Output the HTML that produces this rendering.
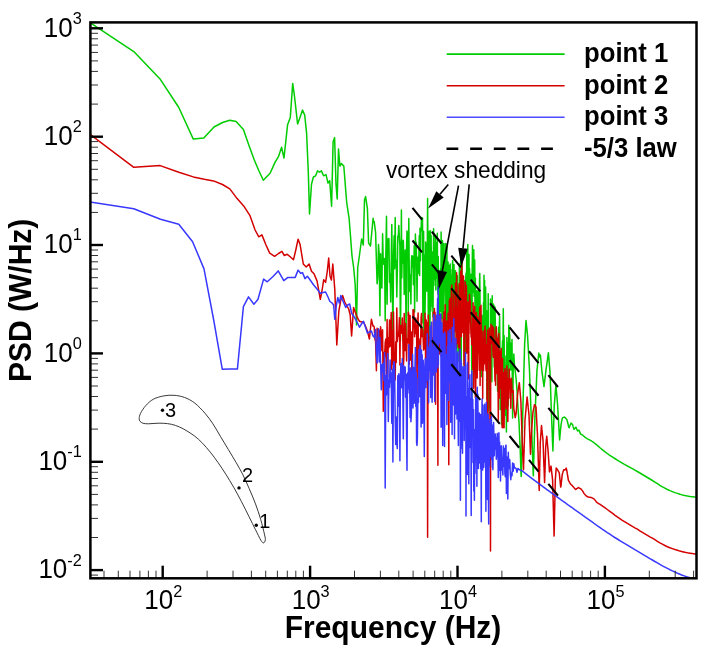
<!DOCTYPE html>
<html><head><meta charset="utf-8"><title>PSD</title><style>html,body{margin:0;padding:0;background:#fff}</style></head><body><svg width="707" height="658" viewBox="0 0 707 658" style="display:block;will-change:transform">
<rect width="707" height="658" fill="#fff"/>
<defs><clipPath id="cp"><rect x="90.4" y="22.4" width="606.1" height="555.9"/></clipPath></defs>
<g clip-path="url(#cp)" fill="none" stroke-linejoin="round" stroke-width="1.5">
<path d="M90.0 22.6L133.8 51.6L160.5 79.6L178.8 107.5L193.3 139.1L203.8 137.9L214.0 127.0L222.5 122.5L229.8 120.2L236.1 121.5L243.4 129.6L248.8 145.0L254.3 160.0L259.0 171.0L263.3 180.2L270.1 173.3L275.0 162.4L278.6 156.3L281.6 147.3L284.0 158.0L287.6 124.7L290.3 117.4L292.7 83.4L294.4 95.5L297.6 124.0L300.0 117.4L302.5 110.1L304.7 115.0L306.6 133.2L308.3 172.1L309.5 214.0L311.5 184.3L313.4 177.0L315.6 175.8L317.5 170.9L319.5 172.1L321.4 170.9L323.6 175.8L326.0 174.6L328.0 183.1L329.7 180.6L331.6 206.2L333.1 141.7L334.6 137.6L336.0 184.3L337.2 198.9L338.5 149.0L339.9 166.0L341.4 163.6L343.8 166.0L345.3 185.0L346.7 202.5L349.1 218.3L350.5 236.0L352.0 256.0L353.7 268.0L355.2 285.0L356.5 325.0L357.7 268.0L359.5 255.0L361.6 239.0L363.3 245.0L364.5 200.0L365.6 196.5L367.4 208.6L368.6 243.0L370.5 246.0L373.1 218.3L373.4 221.2L374.2 221.7L374.9 227.2L375.6 232.4L376.4 260.6L377.1 283.8L377.8 276.9L378.5 244.6L379.2 254.3L379.9 315.8L380.6 253.7L381.3 287.5L381.9 288.0L382.6 233.8L383.3 264.2L383.9 259.1L384.6 258.5L385.2 320.7L385.8 256.6L386.5 216.3L387.1 304.2L387.7 241.9L388.3 238.6L388.9 238.8L389.5 282.2L390.1 274.2L390.7 302.1L391.2 264.4L391.8 224.4L392.4 285.4L392.9 339.7L393.5 260.1L394.1 235.8L394.6 268.8L395.2 217.5L395.7 266.3L396.2 260.2L396.8 297.0L397.3 271.2L397.8 236.4L398.3 236.0L398.8 225.4L399.4 238.4L399.9 245.4L400.4 341.1L400.9 288.3L401.4 209.9L401.8 277.7L402.3 241.0L402.8 263.0L403.3 240.3L403.8 258.8L404.2 294.5L404.7 286.7L405.2 250.1L405.6 276.5L406.1 339.0L406.6 244.9L407.0 231.0L407.5 233.5L407.9 232.9L408.3 315.7L408.8 218.4L409.2 265.3L409.7 291.3L410.1 274.8L410.5 284.1L410.9 304.0L411.4 261.3L411.8 255.8L412.2 267.1L412.6 256.0L413.0 266.2L413.4 284.7L413.8 279.5L414.2 245.7L414.6 311.9L415.0 278.0L415.4 234.1L415.8 253.9L416.2 242.2L416.6 260.9L417.0 301.3L417.4 273.5L417.8 257.3L418.1 273.5L418.5 266.3L418.9 255.5L419.3 235.6L419.6 275.5L420.0 228.2L420.4 260.8L420.7 232.8L421.1 229.0L421.5 217.6L421.8 230.6L422.2 230.3L422.5 217.9L422.9 323.0L423.2 292.9L423.6 231.2L423.9 345.3L424.3 254.8L424.6 255.0L425.0 314.6L425.3 291.8L425.6 242.0L426.0 245.6L426.3 281.7L426.7 291.1L427.0 287.7L427.3 250.2L427.6 198.5L428.0 265.0L428.3 318.3L428.6 241.1L428.9 261.5L429.3 231.2L429.6 359.6L429.9 347.2L430.2 290.5L430.5 230.7L430.8 311.1L431.1 235.4L431.4 266.9L431.7 267.4L432.1 251.9L432.4 306.8L432.7 292.9L433.0 316.8L433.3 269.7L433.6 228.8L433.9 285.5L434.2 258.2L434.4 262.2L434.7 267.6L435.0 279.4L435.3 236.3L435.6 270.9L435.9 290.0L436.2 242.7L436.5 251.0L436.8 264.6L437.0 278.3L437.3 233.2L437.6 273.8L437.9 294.0L438.2 256.6L438.4 283.9L438.7 274.7L439.0 285.8L439.3 280.1L439.5 335.1L439.8 303.4L440.1 300.4L440.3 284.5L440.6 268.6L440.9 311.2L441.1 232.0L441.4 283.3L441.7 267.3L441.9 318.4L442.2 310.9L442.4 240.5L442.7 262.9L443.0 286.9L443.2 332.2L443.5 243.5L443.7 316.1L444.0 300.1L444.2 290.3L444.5 274.9L444.7 286.1L445.0 288.1L445.2 243.6L445.5 284.8L445.7 275.2L446.0 341.4L446.2 267.1L446.5 356.9L446.7 313.2L446.9 243.8L447.2 318.2L447.4 293.2L447.7 334.3L447.9 334.9L448.1 262.1L448.4 309.8L448.6 298.6L448.8 306.2L449.1 350.3L449.3 301.2L449.5 265.3L449.8 322.1L450.0 282.1L450.2 263.9L450.5 338.9L450.7 269.6L450.9 371.0L451.2 275.0L451.4 305.9L451.6 334.1L451.8 298.4L452.1 314.8L452.3 358.2L452.5 263.1L452.7 260.5L452.9 329.5L453.2 306.9L453.4 309.5L453.6 301.1L453.8 339.1L454.0 264.4L454.2 290.3L454.5 325.4L454.7 307.7L454.9 317.2L455.1 297.1L455.3 271.5L455.5 270.8L455.7 328.6L455.9 287.2L456.2 321.0L456.4 356.9L456.6 327.7L456.8 290.0L457.0 346.8L457.2 313.7L457.4 275.7L457.6 312.5L457.8 313.6L458.0 322.0L458.2 361.2L458.4 297.6L458.6 287.8L458.8 285.2L459.0 324.4L459.2 323.2L459.4 264.1L459.6 321.0L459.8 298.2L460.0 421.8L460.2 325.4L460.4 325.4L460.6 344.1L460.8 248.8L461.0 299.4L461.2 363.1L461.4 286.7L461.6 288.7L461.8 287.7L462.0 249.4L462.1 289.9L462.3 287.4L462.5 311.2L462.7 323.1L462.9 288.6L463.1 291.3L463.3 319.3L463.5 304.1L463.6 285.5L463.8 283.2L464.0 306.6L464.2 372.5L464.4 280.6L464.6 299.7L464.8 320.6L464.9 304.4L465.1 330.1L465.3 280.9L465.5 300.4L465.7 351.2L465.8 277.9L466.0 273.6L466.2 294.2L466.4 272.3L466.6 344.1L466.7 251.8L466.9 278.3L467.1 257.8L467.3 343.1L467.4 307.6L467.6 298.2L467.8 244.6L468.0 289.1L468.1 332.8L468.3 272.6L468.5 282.3L468.7 312.9L468.8 263.8L469.0 254.6L469.2 296.2L469.3 322.1L469.5 268.2L469.9 276.3L470.2 298.2L470.5 316.7L470.9 297.2L471.2 274.2L471.5 286.6L471.8 417.2L472.2 269.5L472.5 245.6L472.8 278.1L473.1 266.1L473.5 292.6L473.8 249.7L474.1 296.3L474.4 259.7L474.7 260.0L475.0 305.9L475.4 277.9L475.7 361.0L476.0 293.3L476.3 363.7L476.6 290.7L476.9 323.1L477.2 316.0L477.5 341.6L477.8 303.6L478.1 290.7L478.4 345.2L478.7 324.9L479.0 307.4L479.3 337.1L479.5 281.3L479.8 273.4L480.1 311.3L480.4 323.3L480.7 316.4L481.0 350.5L481.3 376.4L481.5 348.4L481.8 315.3L482.1 333.5L482.4 354.3L482.7 360.0L482.9 324.0L483.2 335.2L483.5 302.6L483.8 361.6L484.0 275.2L484.3 328.2L484.6 280.4L484.8 337.3L485.1 310.4L485.4 343.9L485.6 286.9L485.9 307.9L486.2 354.7L486.4 336.9L486.7 310.9L486.9 399.4L487.2 359.4L487.5 355.3L487.7 436.2L488.0 328.4L488.2 293.7L488.5 410.8L488.7 383.9L489.0 337.6L489.2 329.7L489.5 331.2L489.7 351.2L490.0 359.3L490.2 407.6L490.5 299.0L490.7 304.9L491.0 365.0L491.2 343.5L491.4 351.5L491.7 356.7L491.9 381.7L492.2 295.7L492.4 350.4L492.6 321.3L492.9 349.6L493.1 334.5L493.3 304.1L493.6 340.6L493.9 305.2L494.3 367.0L494.6 323.9L495.0 306.9L495.3 321.9L495.6 367.7L496.0 357.3L496.3 367.6L496.6 335.5L497.0 352.1L497.3 372.3L497.6 391.2L498.0 368.5L498.3 348.9L498.6 327.2L498.9 338.2L499.3 331.2L499.6 316.0L499.9 340.4L500.2 409.4L500.5 363.2L500.8 407.0L501.2 353.0L501.5 424.4L501.8 359.8L502.1 354.2L502.5 340.7L502.9 359.1L503.3 308.8L503.7 374.4L504.1 335.5L504.5 375.8L504.9 394.9L505.3 376.1L505.7 415.6L506.0 356.0L506.4 432.1L506.9 337.6L507.4 364.4L507.8 343.1L508.3 405.8L508.8 325.2L509.2 329.9L509.8 336.3L510.3 370.1L510.8 343.3L511.4 369.7L512.0 339.5L512.6 418.1L513.2 370.5L513.8 354.0L514.5 365.4L515.2 370.9L516.1 378.8L517.0 389.9L517.9 406.9L519.0 421.7L520.2 449.2L521.0 473.2L521.1 474.9L521.2 476.5L521.3 474.9L521.3 471.8L521.4 468.8L521.5 465.8L521.6 462.8L521.6 459.8L521.7 456.8L521.8 453.8L521.9 450.8L521.9 447.8L522.0 444.8L522.1 441.8L522.2 438.8L522.2 435.8L522.3 432.8L522.4 429.9L522.5 426.9L522.5 423.9L522.6 421.0L522.7 418.0L522.7 415.0L522.8 412.1L522.9 409.1L523.0 406.2L523.0 403.3L523.1 400.6L523.2 397.8L523.3 395.1L523.3 392.3L523.4 389.6L523.5 386.8L523.6 384.1L523.6 381.4L523.7 378.6L523.8 375.9L523.8 373.2L523.9 370.5L524.0 367.7L524.1 365.0L524.1 362.3L524.2 359.6L524.3 356.9L524.4 354.2L524.4 351.5L524.5 348.8L524.6 346.1L524.6 344.2L524.7 343.0L524.8 341.7L524.9 340.5L524.9 339.2L525.0 338.0L525.1 336.7L525.1 335.5L525.2 334.2L525.3 333.0L525.4 331.8L525.4 330.5L525.5 329.3L525.6 328.0L525.6 326.8L525.7 325.6L525.8 324.3L525.9 323.1L525.9 321.9L526.0 320.6L526.1 321.1L526.1 321.8L526.2 322.5L526.3 323.1L526.3 323.8L526.4 324.5L526.5 325.2L526.6 325.8L526.6 326.5L526.7 327.2L526.8 327.9L526.8 328.5L526.9 329.2L527.0 329.9L527.0 330.5L527.1 331.2L527.2 331.9L527.2 332.5L527.3 333.2L527.4 333.9L527.5 334.5L527.5 335.3L527.6 336.5L527.7 337.7L527.7 338.9L527.8 340.1L527.9 341.3L527.9 342.5L528.0 343.7L528.1 344.9L528.1 346.1L528.2 347.3L528.3 348.5L528.3 349.7L528.4 350.8L528.5 352.0L528.5 353.2L528.6 354.4L528.7 355.6L528.7 356.8L528.8 357.9L528.9 359.1L528.9 360.3L529.0 361.5L529.1 362.6L529.1 363.8L529.2 365.0L529.3 366.1L529.3 367.3L529.4 368.5L529.5 369.6L529.5 371.3L529.6 373.1L529.7 374.9L529.7 376.7L529.8 378.6L529.9 380.4L529.9 382.2L530.0 384.0L530.1 385.8L530.1 387.6L530.2 389.4L530.3 391.2L530.3 393.1L530.4 394.9L530.5 396.7L530.5 398.5L530.6 400.3L530.7 402.1L530.7 403.9L530.8 405.6L530.9 407.4L530.9 409.2L531.0 411.0L531.1 412.8L531.1 414.6L531.2 416.4L531.3 418.2L531.3 419.9L531.4 421.7L531.4 423.5L531.5 425.3L531.6 427.1L531.6 428.9L531.7 430.7L531.8 432.6L531.8 434.4L531.9 436.2L532.0 438.0L532.0 439.8L532.1 441.6L532.2 443.4L532.2 445.2L532.3 447.1L532.3 448.9L532.4 450.7L532.5 452.5L532.5 454.3L532.6 456.1L532.7 457.9L532.7 459.6L532.8 461.4L532.8 463.2L532.9 465.0L533.0 466.8L533.0 468.6L533.1 470.4L533.2 472.1L533.2 473.9L533.3 475.7L533.4 474.1L533.4 471.9L533.5 469.6L533.5 467.4L533.6 465.2L533.7 462.9L533.7 460.7L533.8 458.4L533.9 456.2L533.9 454.0L534.0 451.8L534.0 449.5L534.1 447.3L534.2 445.1L534.2 442.9L534.3 440.7L534.3 438.4L534.4 436.2L534.5 434.0L534.5 431.8L534.6 429.6L534.7 427.4L534.7 425.2L534.8 423.0L534.8 420.8L534.9 418.6L535.0 416.4L535.0 414.5L535.1 413.1L535.1 411.8L535.2 410.4L535.3 409.0L535.3 407.7L535.4 406.3L535.4 404.9L535.5 403.6L535.6 402.2L535.6 400.9L535.7 399.5L535.7 398.1L535.8 396.8L535.9 395.4L535.9 394.1L536.0 392.7L536.1 391.4L536.1 390.0L536.2 388.7L536.2 387.3L536.3 386.0L536.4 384.6L536.4 383.3L536.5 381.9L536.5 380.6L536.6 379.3L536.6 377.9L536.7 376.6L536.8 375.2L536.8 373.9L536.9 372.6L536.9 371.2L537.0 370.0L537.1 369.4L537.1 368.8L537.2 368.3L537.2 367.7L537.3 367.2L537.4 366.6L537.4 366.1L537.5 365.5L537.5 365.0L537.6 364.4L537.7 363.8L537.7 363.3L537.8 362.7L537.8 362.2L537.9 361.6L537.9 361.1L538.0 360.5L538.1 360.0L538.1 359.4L538.2 358.9L538.2 358.3L538.3 357.8L538.4 357.2L538.4 356.7L538.5 356.2L538.5 355.6L538.6 355.1L538.6 354.5L538.7 354.0L538.8 353.4L538.8 353.1L538.9 353.3L538.9 353.6L539.0 353.9L539.0 354.2L539.1 354.5L539.2 354.8L539.2 355.1L539.3 355.4L539.3 355.6L539.4 355.9L539.4 356.2L539.5 356.5L539.6 356.8L539.6 357.0L539.7 356.8L539.7 356.7L539.8 356.5L539.8 356.4L539.9 356.3L540.0 356.1L540.0 356.0L540.1 355.8L540.1 355.7L540.2 355.6L540.2 355.4L540.3 355.3L540.3 355.1L540.4 355.0L540.5 355.6L540.5 356.2L540.6 356.8L540.6 357.4L540.7 358.0L540.7 358.6L540.8 359.2L540.9 359.8L540.9 360.4L541.0 361.0L541.0 361.6L541.1 362.1L541.1 362.7L541.2 363.3L541.2 363.9L541.3 364.5L541.3 365.1L541.4 365.7L541.5 366.3L541.5 366.9L541.6 367.4L541.6 368.0L541.7 368.6L541.7 369.2L541.8 369.8L541.8 370.4L541.9 370.9L542.0 371.5L542.0 372.1L542.1 372.5L542.1 372.9L542.2 373.3L542.2 373.7L542.3 374.0L542.3 374.4L542.4 374.8L542.4 375.2L542.5 375.6L542.6 376.0L542.6 376.4L542.7 376.8L542.7 377.2L542.8 377.6L542.8 378.0L542.9 378.4L542.9 378.8L543.0 379.2L543.0 379.5L543.1 379.9L543.1 380.3L543.2 380.7L543.3 381.1L543.3 381.5L543.4 381.9L543.4 382.3L543.5 382.7L543.5 383.0L543.6 383.4L543.6 383.8L543.7 384.2L543.7 384.6L543.8 385.0L543.8 385.4L543.9 385.8L543.9 386.1L544.0 386.5L544.1 386.0L544.1 385.6L544.2 385.2L544.2 384.7L544.3 384.3L544.3 383.9L544.4 383.4L544.4 383.0L544.5 382.6L544.5 382.1L544.6 381.7L544.6 381.3L544.7 380.8L544.7 380.4L544.8 380.0L544.8 379.5L544.9 379.1L545.0 378.7L545.0 378.2L545.1 377.8L545.1 377.4L545.2 376.9L545.2 376.5L545.3 376.1L545.3 375.7L545.4 375.2L545.4 374.8L545.5 374.4L545.5 373.9L545.6 373.5L545.6 373.1L545.7 372.7L545.7 372.2L545.8 371.8L545.8 371.4L545.9 371.0L545.9 370.5L546.0 370.1L546.0 369.7L546.1 369.3L546.1 369.0L546.2 368.6L546.2 368.2L546.3 367.9L546.3 367.5L546.4 367.1L546.4 366.8L546.5 366.4L546.6 366.0L546.6 365.6L546.7 365.3L546.7 364.9L546.8 364.5L546.8 364.2L546.9 363.8L546.9 363.4L547.0 363.1L547.0 362.7L547.1 362.3L547.1 362.0L547.2 361.6L547.2 361.2L547.3 360.9L547.3 360.5L547.4 360.1L547.4 359.8L547.5 359.4L547.5 359.0L547.6 358.7L547.6 358.3L547.7 358.0L547.7 357.6L547.8 357.2L547.8 356.9L547.9 356.5L547.9 356.1L548.0 355.8L548.0 355.4L548.1 355.1L548.1 354.7L548.2 354.3L548.2 354.0L548.3 353.6L548.3 353.3L548.4 352.9L548.4 352.7L548.5 353.3L548.5 353.9L548.6 354.5L548.6 355.1L548.7 355.7L548.7 356.3L548.8 356.9L548.8 357.5L548.9 358.1L548.9 358.7L549.0 359.3L549.0 359.9L549.0 360.5L549.1 361.1L549.1 361.7L549.2 362.3L549.2 362.8L549.3 363.4L549.3 364.0L549.4 364.6L549.4 365.2L549.5 365.8L549.5 366.4L549.6 367.0L549.6 367.6L549.7 368.2L549.7 368.7L549.8 369.3L549.8 369.9L549.9 370.5L549.9 371.1L550.0 371.7L550.0 372.6L550.1 374.0L550.1 375.4L550.2 376.8L550.2 378.2L550.3 379.5L550.3 380.9L550.4 382.3L550.4 383.7L550.5 385.0L550.5 386.4L550.6 387.8L550.6 389.2L550.6 390.5L550.7 391.9L550.7 393.3L550.8 394.6L550.8 396.0L550.9 397.4L550.9 398.7L551.0 400.1L551.0 401.5L551.1 402.8L551.1 404.2L551.2 405.5L551.2 406.9L551.3 408.3L551.3 409.6L551.4 411.0L551.4 412.3L551.5 413.7L551.5 415.0L551.5 416.2L551.6 417.5L551.6 418.7L551.7 419.9L551.7 421.1L551.8 422.3L551.8 423.5L551.9 424.7L551.9 425.9L552.0 427.1L552.0 428.3L552.1 429.5L552.1 430.7L552.2 431.9L552.2 433.1L552.3 434.3L552.3 435.5L552.3 436.7L552.4 437.9L552.4 439.1L552.5 440.3L552.5 441.5L552.6 442.7L552.6 443.9L552.7 445.1L552.7 446.3L552.8 447.5L552.8 448.7L552.9 449.8L552.9 451.0L552.9 449.4L553.0 447.9L553.0 446.4L553.1 444.9L553.1 443.4L553.2 441.9L553.2 440.4L553.3 438.9L553.3 437.4L553.4 435.9L553.4 434.3L553.5 432.8L553.5 431.3L553.5 429.8L553.6 428.3L553.6 426.8L553.7 425.3L553.7 423.8L553.8 422.3L553.8 420.8L553.9 419.4L553.9 417.9L554.0 416.4L554.0 414.9L554.0 413.4L554.1 411.9L554.1 410.4L554.2 408.9L554.2 407.4L554.3 406.0L554.3 404.8L554.4 404.2L554.4 403.7L554.5 403.1L554.5 402.5L554.5 402.0L554.6 401.4L554.6 400.9L554.7 400.3L554.7 399.7L554.8 399.2L554.8 398.6L554.9 398.1L554.9 397.5L554.9 396.9L555.0 396.4L555.0 395.8L555.1 395.3L555.1 394.7L555.2 394.1L555.2 393.6L555.3 393.0L555.3 392.5L555.3 391.9L555.4 391.4L555.4 390.8L555.5 390.3L555.5 389.7L555.6 389.2L555.6 388.6L555.7 388.0L555.7 387.5L555.7 386.9L555.8 386.4L555.8 385.8L555.9 385.3L555.9 385.2L556.0 385.8L556.0 386.3L556.1 386.8L556.1 387.3L556.1 387.8L556.2 388.3L556.2 388.9L556.3 389.4L556.3 389.9L556.4 390.4L556.4 390.9L556.4 391.4L556.5 392.0L556.5 392.5L556.6 393.0L556.6 393.5L556.7 394.0L556.7 394.5L556.8 395.0L556.8 395.5L556.8 396.0L556.9 396.6L556.9 397.1L557.0 397.6L557.0 398.1L557.1 398.6L557.1 399.1L557.1 399.6L557.2 400.1L557.2 400.6L557.3 401.1L557.3 401.6L557.4 402.1L557.4 402.7L557.4 403.2L557.5 403.7L557.5 404.2L557.6 404.7L557.6 405.3L557.7 406.0L557.7 406.8L557.7 407.5L557.8 408.3L557.8 409.0L557.9 409.8L557.9 410.5L558.0 411.3L558.0 412.0L558.0 412.8L558.1 413.5L558.1 414.2L558.2 415.0L558.2 415.7L558.3 416.5L558.3 417.2L558.3 418.0L558.4 418.7L558.4 419.4L558.5 420.2L558.5 420.9L558.6 421.7L558.6 422.4L558.6 423.1L558.7 423.9L558.7 424.6L558.8 425.3L558.8 426.1L558.8 426.8L558.9 427.6L558.9 428.3L559.0 429.0L559.0 429.8L559.1 430.5L559.1 431.2L559.1 432.0L559.2 432.7L559.2 433.4L559.3 434.2L559.3 434.9L559.3 435.6L559.4 436.4L559.4 437.1L559.5 437.8L559.5 438.5L559.6 439.3L559.6 440.0L559.6 439.6L559.7 439.1L559.7 438.7L559.8 438.2L559.8 437.8L559.8 437.3L559.9 436.9L559.9 436.4L560.0 436.0L560.3 432.0L560.7 428.1L561.1 424.6L561.4 422.6L561.8 420.7L562.2 418.7L562.5 417.9L562.9 417.7L563.2 417.6L563.6 417.4L563.9 417.3L564.3 417.1L564.7 417.2L565.1 417.6L565.5 418.0L565.9 418.4L566.2 418.8L566.6 419.2L567.0 419.8L567.3 421.3L567.7 422.8L568.1 424.3L568.4 425.7L568.8 427.2L569.2 427.6L569.5 426.7L569.9 425.8L570.2 424.9L570.6 424.1L571.0 423.1L571.3 423.3L571.7 423.7L572.1 424.1L572.5 424.5L572.8 425.6L573.2 426.9L573.6 428.1L574.0 429.3L574.3 429.1L574.7 428.6L575.0 428.1L575.4 427.7L575.8 427.2L576.1 427.5L576.5 428.4L576.8 429.3L577.2 430.2L577.6 431.0L577.9 430.7L578.3 430.5L578.7 430.2L579.1 430.2L579.4 431.1L579.8 432.1L580.2 433.1L580.5 434.0L580.9 434.2L581.2 434.3L581.6 434.5L581.9 434.7L582.3 434.9L582.7 435.2L583.0 435.4L583.4 435.8L583.8 436.1L584.2 436.5L584.5 436.8L584.9 437.1L585.2 437.4L585.6 437.7L586.0 438.0L586.3 438.2L586.7 438.4L587.0 438.6L587.4 438.8L587.8 439.0L588.1 439.2L588.5 439.4L588.9 439.6L589.2 439.7L589.6 439.9L590.0 440.1L590.3 440.3L590.7 440.5L591.0 440.7L591.4 440.9L591.8 441.2L592.1 441.4L592.5 441.6L592.9 441.9L593.2 442.2L593.6 442.4L594.0 442.7L594.3 443.0L594.7 443.3L595.0 443.5L595.4 443.8L595.8 444.1L596.1 444.4L596.5 444.7L596.8 445.0L597.2 445.3L597.6 445.6L597.9 445.9L598.3 446.3L598.7 446.6L599.0 446.9L599.4 447.2L599.7 447.5L602.2 449.6L604.8 451.7L607.3 453.5L609.8 455.3L612.3 456.9L614.8 458.5L617.3 460.1L619.8 461.6L622.3 463.1L624.9 464.6L627.4 466.0L629.9 467.3L632.4 468.7L634.9 470.1L637.4 471.5L639.9 473.0L642.4 474.5L644.9 476.0L647.4 477.5L649.9 479.0L652.4 480.5L654.9 482.1L657.4 483.7L659.9 485.3L662.4 486.8L664.9 488.2L667.4 489.5L669.9 490.6L672.4 491.6L674.9 492.6L677.4 493.4L679.9 494.2L682.4 494.9L684.9 495.5L687.4 496.0L689.9 496.4L692.4 496.7L694.9 497.0L697.4 497.2L697.5 497.2" stroke="#00cc00"/>
<path d="M90.0 134.3L133.8 167.3L160.2 165.6L178.8 172.2L193.3 176.9L204.3 179.2L213.5 180.9L222.5 184.5L229.8 188.9L237.1 198.6L243.7 205.9L250.0 215.7L255.1 230.0L258.8 236.8L261.9 234.9L266.0 245.0L269.7 253.1L274.6 256.3L278.5 253.5L281.9 251.4L284.3 255.5L287.2 254.3L290.5 257.0L293.5 259.7L295.8 250.0L298.1 239.2L300.1 244.6L303.3 264.0L306.2 267.0L309.1 264.0L311.5 271.3L314.0 273.8L317.1 281.1L320.3 299.3L321.8 292.0L323.7 279.8L325.6 282.3L327.2 272.0L328.7 258.0L330.0 276.0L331.4 280.0L332.8 264.0L334.8 289.6L336.8 345.0L338.8 311.4L340.8 300.0L342.7 295.6L344.7 302.0L346.7 305.5L348.7 309.0L350.2 315.0L351.6 336.0L353.6 307.4L355.6 313.0L357.5 318.0L359.5 321.3L361.5 322.0L363.5 322.0L365.4 326.0L367.4 331.1L369.4 339.0L371.4 319.3L373.0 326.0L373.4 325.7L374.2 326.9L374.9 338.7L375.6 341.5L376.4 370.7L377.1 328.2L377.8 332.9L378.5 342.1L379.2 330.2L379.9 348.9L380.6 326.8L381.3 333.8L381.9 350.7L382.6 329.8L383.3 411.3L383.9 352.4L384.6 356.6L385.2 342.6L385.8 339.0L386.5 381.1L387.1 319.5L387.7 377.5L388.3 338.0L388.9 347.7L389.5 320.1L390.1 346.3L390.7 333.5L391.2 312.6L391.8 369.4L392.4 330.7L392.9 364.1L393.5 311.9L394.1 356.0L394.6 363.6L395.2 380.0L395.7 341.7L396.2 362.5L396.8 307.9L397.3 341.6L397.8 335.4L398.3 336.1L398.8 332.0L399.4 317.7L399.9 364.9L400.4 325.4L400.9 327.9L401.4 333.2L401.8 327.1L402.3 318.0L402.8 337.4L403.3 366.1L403.8 358.9L404.2 313.6L404.7 350.2L405.2 350.5L405.6 323.4L406.1 339.2L406.6 361.0L407.0 341.0L407.5 338.7L407.9 342.8L408.3 312.2L408.8 314.4L409.2 364.4L409.7 341.5L410.1 315.4L410.5 359.9L410.9 339.8L411.4 331.9L411.8 380.9L412.2 351.8L412.6 342.9L413.0 309.7L413.4 322.7L413.8 309.8L414.2 323.8L414.6 336.7L415.0 326.5L415.4 333.5L415.8 318.1L416.2 326.3L416.6 325.9L417.0 393.0L417.4 339.2L417.8 321.0L418.1 313.1L418.5 363.9L418.9 338.6L419.3 341.6L419.6 356.3L420.0 375.8L420.4 368.1L420.7 339.5L421.1 318.4L421.5 313.5L421.8 336.7L422.2 334.5L422.5 328.9L422.9 331.1L423.2 340.1L423.6 350.1L423.9 339.5L424.3 345.1L424.6 348.8L425.0 313.3L425.3 321.9L425.6 368.4L426.0 382.2L426.3 319.9L426.7 340.4L427.0 358.5L427.3 322.7L427.6 537.3L428.0 367.0L428.3 315.2L428.6 379.4L428.9 354.0L429.3 339.5L429.6 369.1L429.9 349.7L430.2 337.8L430.5 335.1L430.8 345.7L431.1 397.6L431.4 339.5L431.7 357.1L432.1 362.2L432.4 337.6L432.7 365.4L433.0 358.4L433.3 312.2L433.6 330.9L433.9 329.4L434.2 371.9L434.4 308.4L434.7 339.9L435.0 312.3L435.3 324.6L435.6 404.3L435.9 327.9L436.2 342.8L436.5 334.6L436.8 328.5L437.0 339.3L437.3 329.5L437.6 329.1L437.9 465.3L438.2 329.4L438.4 314.4L438.7 322.0L439.0 340.5L439.3 353.9L439.5 314.7L439.8 334.0L440.1 329.2L440.3 336.6L440.6 331.5L440.9 314.8L441.1 356.5L441.4 334.8L441.7 331.8L441.9 360.8L442.2 338.1L442.4 330.2L442.7 348.8L443.0 341.8L443.2 319.0L443.5 326.1L443.7 332.9L444.0 312.1L444.2 335.8L444.5 354.4L444.7 324.3L445.0 317.5L445.2 304.7L445.5 335.0L445.7 334.8L446.0 337.9L446.2 387.6L446.5 357.7L446.7 350.1L446.9 321.1L447.2 326.1L447.4 357.0L447.7 355.7L447.9 361.9L448.1 313.2L448.4 368.8L448.6 385.7L448.8 464.8L449.1 347.0L449.3 300.6L449.5 355.9L449.8 347.7L450.0 298.5L450.2 322.3L450.5 361.6L450.7 340.6L450.9 312.9L451.2 335.2L451.4 287.2L451.6 318.4L451.8 284.9L452.1 382.5L452.3 331.7L452.5 360.5L452.7 393.1L452.9 334.1L453.2 319.8L453.4 321.8L453.6 293.9L453.8 381.6L454.0 317.4L454.2 330.2L454.5 331.9L454.7 323.3L454.9 329.2L455.1 307.7L455.3 314.2L455.5 283.3L455.7 325.4L455.9 308.1L456.2 347.8L456.4 330.1L456.6 272.8L456.8 330.0L457.0 286.3L457.2 343.8L457.4 316.0L457.6 311.0L457.8 331.5L458.0 307.4L458.2 324.9L458.4 311.3L458.6 347.4L458.8 295.2L459.0 336.5L459.2 283.6L459.4 320.2L459.6 298.6L459.8 369.9L460.0 333.1L460.2 330.1L460.4 311.9L460.6 271.3L460.8 285.6L461.0 318.6L461.2 300.4L461.4 336.4L461.6 292.6L461.8 262.0L462.0 323.2L462.1 290.1L462.3 295.8L462.5 275.2L462.7 279.2L462.9 332.6L463.1 285.9L463.3 276.1L463.5 276.3L463.6 329.3L463.8 325.4L464.0 364.2L464.2 295.4L464.4 378.1L464.6 389.0L464.8 347.9L464.9 298.7L465.1 302.6L465.3 282.0L465.5 292.2L465.7 317.8L465.8 333.3L466.0 329.2L466.2 307.0L466.4 285.6L466.6 328.6L466.7 353.3L466.9 339.2L467.1 305.5L467.3 327.9L467.4 350.3L467.6 315.9L467.8 336.2L468.0 302.1L468.1 314.8L468.3 378.9L468.5 335.1L468.7 376.9L468.8 317.7L469.0 333.8L469.2 303.6L469.3 312.2L469.5 294.4L469.9 306.5L470.2 300.4L470.5 315.9L470.9 331.5L471.2 337.1L471.5 330.6L471.8 344.8L472.2 337.5L472.5 317.4L472.8 369.5L473.1 302.8L473.5 388.3L473.8 310.8L474.1 364.6L474.4 346.1L474.7 306.5L475.0 364.8L475.4 397.5L475.7 391.1L476.0 348.8L476.3 312.5L476.6 321.8L476.9 337.3L477.2 378.1L477.5 316.8L477.8 342.5L478.1 353.6L478.4 351.3L478.7 318.5L479.0 358.0L479.3 370.3L479.5 316.8L479.8 307.2L480.1 385.5L480.4 335.1L480.7 351.7L481.0 305.2L481.3 338.9L481.5 339.6L481.8 370.1L482.1 339.6L482.4 342.6L482.7 398.6L482.9 331.2L483.2 359.6L483.5 370.6L483.8 348.0L484.0 350.4L484.3 364.0L484.6 330.5L484.8 333.5L485.1 326.0L485.4 352.7L485.6 338.9L485.9 368.1L486.2 371.0L486.4 344.8L486.7 348.7L486.9 346.6L487.2 462.0L487.5 330.0L487.7 447.8L488.0 384.5L488.2 339.1L488.5 338.1L488.7 355.7L489.0 335.6L489.2 327.9L489.5 360.7L489.7 337.3L490.0 438.9L490.2 373.6L490.5 551.0L490.7 346.1L491.0 324.2L491.2 332.4L491.4 343.6L491.7 336.0L491.9 338.8L492.2 337.0L492.4 326.8L492.6 326.1L492.9 351.3L493.1 355.3L493.3 357.2L493.6 327.7L493.9 336.2L494.3 345.7L494.6 363.9L495.0 380.9L495.3 370.2L495.6 385.2L496.0 330.7L496.3 326.7L496.6 335.2L497.0 373.6L497.3 344.0L497.6 338.6L498.0 375.2L498.3 420.3L498.6 339.2L498.9 333.4L499.3 398.2L499.6 373.9L499.9 388.6L500.2 369.2L500.5 350.9L500.8 379.1L501.2 348.4L501.5 409.9L501.8 389.5L502.1 427.6L502.5 358.6L502.9 427.8L503.3 382.9L503.7 372.7L504.1 427.8L504.5 375.1L504.9 368.8L505.3 372.6L505.7 390.4L506.0 408.9L506.4 408.7L506.9 365.7L507.4 396.4L507.8 421.5L508.3 378.8L508.8 398.3L509.2 369.1L509.8 385.9L510.3 379.4L510.8 408.2L511.4 378.2L512.0 389.8L512.6 392.2L513.2 390.6L513.8 408.6L514.5 412.7L515.2 417.6L516.1 413.5L517.0 402.2L517.0 401.1L517.1 400.0L517.2 399.0L517.3 397.9L517.4 396.9L517.4 395.9L517.5 394.9L517.6 394.3L517.7 393.8L517.8 393.2L517.8 392.7L517.9 392.1L518.0 391.5L518.1 391.0L518.2 390.4L518.2 389.9L518.3 389.3L518.4 388.8L518.5 388.2L518.5 387.7L518.6 387.1L518.7 386.6L518.8 386.0L518.9 385.5L518.9 384.9L519.0 384.4L519.1 383.8L519.2 383.3L519.3 382.7L519.3 382.8L519.4 383.7L519.5 384.6L519.6 385.5L519.6 386.4L519.7 387.4L519.8 388.3L519.9 389.2L520.0 390.1L520.0 391.0L520.1 391.9L520.2 392.8L520.3 393.7L520.3 394.6L520.4 395.5L520.5 396.4L520.6 397.3L520.6 398.2L520.7 399.1L520.8 400.0L520.9 402.1L521.0 404.3L521.0 406.5L521.1 408.7L521.2 410.9L521.3 413.0L521.3 415.2L521.4 417.4L521.5 419.6L521.6 421.7L521.6 423.9L521.7 426.0L521.8 428.2L521.9 430.4L521.9 432.5L522.0 434.7L522.1 436.8L522.2 439.0L522.2 441.1L522.3 443.2L522.4 445.4L522.5 447.2L522.5 448.8L522.6 450.4L522.7 452.0L522.7 453.6L522.8 455.2L522.9 456.8L523.0 458.4L523.0 460.1L523.1 461.7L523.2 463.3L523.3 464.9L523.3 466.5L523.4 468.1L523.5 469.7L523.6 468.1L523.6 465.7L523.7 463.2L523.8 460.8L523.8 458.4L523.9 456.0L524.0 453.5L524.1 451.1L524.1 448.7L524.2 446.3L524.3 443.9L524.4 441.5L524.4 439.1L524.5 436.7L524.6 434.3L524.6 431.9L524.7 429.5L524.8 427.1L524.9 424.7L524.9 422.4L525.0 420.0L525.1 419.2L525.1 418.4L525.2 417.6L525.3 416.8L525.4 416.1L525.4 415.3L525.5 414.5L525.6 413.7L525.6 412.9L525.7 412.2L525.8 411.4L525.9 410.6L525.9 409.8L526.0 409.0L526.1 408.3L526.1 407.5L526.2 406.7L526.3 405.9L526.3 405.2L526.4 404.4L526.5 403.6L526.6 402.9L526.6 402.1L526.7 401.3L526.8 400.6L526.8 399.8L526.9 399.0L527.0 398.3L527.0 397.5L527.1 396.9L527.2 397.5L527.2 398.2L527.3 398.8L527.4 399.5L527.5 400.2L527.5 400.8L527.6 401.5L527.7 402.1L527.7 402.8L527.8 403.4L527.9 404.1L527.9 404.8L528.0 405.4L528.1 406.1L528.1 406.7L528.2 407.4L528.3 408.0L528.3 408.7L528.4 409.3L528.5 410.0L528.5 410.6L528.6 411.2L528.7 411.9L528.7 412.5L528.8 413.2L528.9 413.8L528.9 414.5L529.0 415.3L529.1 417.1L529.1 418.9L529.2 420.7L529.3 422.4L529.3 424.2L529.4 426.0L529.5 427.8L529.5 429.5L529.6 431.3L529.7 433.1L529.7 434.9L529.8 436.6L529.9 438.4L529.9 440.2L530.0 441.9L530.1 443.7L530.1 445.4L530.2 447.2L530.3 448.9L530.3 450.7L530.4 452.4L530.5 454.2L530.5 454.2L530.6 452.7L530.7 451.2L530.7 449.7L530.8 448.3L530.9 446.8L530.9 445.3L531.0 443.8L531.1 442.4L531.1 440.9L531.2 439.4L531.3 437.9L531.3 436.5L531.4 435.0L531.4 433.5L531.5 432.1L531.6 430.6L531.6 429.5L531.7 428.7L531.8 427.9L531.8 427.0L531.9 426.2L532.0 425.4L532.0 424.6L532.1 423.7L532.2 422.9L532.2 422.1L532.3 421.3L532.3 420.5L532.4 419.6L532.5 418.8L532.5 418.0L532.6 417.2L532.7 416.4L532.7 415.6L532.8 414.8L532.8 413.9L532.9 413.1L533.0 412.3L533.0 411.8L533.1 411.5L533.2 411.2L533.2 410.9L533.3 410.6L533.4 410.3L533.4 410.0L533.5 409.6L533.5 409.3L533.6 409.0L533.7 408.7L533.7 408.4L533.8 408.1L533.9 407.8L533.9 407.5L534.0 407.2L534.0 406.9L534.1 406.6L534.2 406.3L534.2 406.0L534.3 405.7L534.3 405.4L534.4 405.1L534.5 404.7L534.5 404.7L534.6 404.7L534.7 404.8L534.7 404.9L534.8 405.0L534.8 405.1L534.9 405.2L535.0 405.3L535.0 405.4L535.1 405.5L535.1 405.6L535.2 405.7L535.3 405.8L535.3 405.9L535.4 406.0L535.4 406.1L535.5 406.2L535.6 406.3L535.6 406.4L535.7 406.5L535.7 406.6L535.8 406.7L535.9 406.8L535.9 406.9L536.0 407.0L536.1 407.9L536.1 409.1L536.2 410.2L536.2 411.3L536.3 412.4L536.4 413.5L536.4 414.6L536.5 415.8L536.5 416.9L536.6 418.0L536.6 419.1L536.7 420.2L536.8 421.3L536.8 422.4L536.9 423.5L536.9 424.6L537.0 425.7L537.1 426.8L537.1 428.0L537.2 429.1L537.2 430.2L537.3 431.3L537.4 432.4L537.4 433.5L537.5 434.5L537.5 436.1L537.6 438.1L537.7 440.0L537.7 441.9L537.8 443.9L537.8 445.8L537.9 447.7L537.9 449.6L538.0 451.5L538.1 453.5L538.1 455.4L538.2 457.3L538.2 459.2L538.3 461.1L538.4 463.0L538.4 464.9L538.5 466.8L538.5 468.7L538.6 470.6L538.6 472.5L538.7 474.4L538.8 476.3L538.8 478.2L538.9 480.1L538.9 482.0L539.0 483.9L539.0 485.8L539.1 487.7L539.2 489.6L539.2 490.4L539.3 487.8L539.3 485.3L539.4 482.8L539.4 480.2L539.5 477.7L539.6 475.1L539.6 472.6L539.7 470.1L539.7 467.6L539.8 465.0L539.8 462.5L539.9 460.0L540.0 457.5L540.0 455.0L540.1 452.4L540.1 449.9L540.2 447.4L540.2 444.9L540.3 442.4L540.3 441.4L540.4 440.6L540.5 439.8L540.5 439.0L540.6 438.3L540.6 437.5L540.7 436.7L540.7 436.0L540.8 435.2L540.9 434.4L540.9 433.7L541.0 432.9L541.0 432.1L541.1 431.4L541.1 430.6L541.2 429.8L541.2 429.1L541.3 428.3L541.3 427.6L541.4 426.8L541.5 426.0L541.5 425.6L541.6 426.2L541.6 426.7L541.7 427.2L541.7 427.8L541.8 428.3L541.8 428.8L541.9 429.4L542.0 429.9L542.0 430.4L542.1 431.0L542.1 431.5L542.2 432.0L542.2 432.5L542.3 433.1L542.3 433.6L542.4 434.1L542.4 434.6L542.5 435.2L542.6 435.7L542.6 436.2L542.7 436.7L542.7 437.3L542.8 437.8L542.8 438.3L542.9 438.8L542.9 439.4L543.0 439.9L543.0 441.1L543.1 442.5L543.1 444.0L543.2 445.4L543.3 446.9L543.3 448.3L543.4 449.8L543.4 451.2L543.5 452.6L543.5 454.1L543.6 455.5L543.6 456.9L543.7 458.4L543.7 459.8L543.8 461.2L543.8 462.7L543.9 464.1L543.9 465.5L544.0 466.9L544.1 468.4L544.1 469.8L544.2 471.2L544.2 472.6L544.3 474.1L544.3 475.5L544.4 476.9L544.4 478.3L544.5 479.7L544.5 481.1L544.6 482.6L544.6 481.8L544.7 480.1L544.7 478.4L544.8 476.7L544.8 475.0L544.9 473.2L545.0 471.5L545.0 469.8L545.1 468.1L545.1 466.4L545.2 464.7L545.2 463.0L545.3 461.3L545.3 459.6L545.4 457.9L545.4 456.2L545.5 454.5L545.5 452.8L545.6 451.1L545.6 449.4L545.7 447.7L545.7 446.7L545.8 446.1L545.8 445.6L545.9 445.0L545.9 444.5L546.0 443.9L546.0 443.3L546.1 442.8L546.1 442.2L546.2 441.7L546.2 441.1L546.3 440.6L546.3 440.0L546.4 439.5L546.4 438.9L546.5 438.4L546.6 437.8L546.6 437.3L546.7 436.7L546.7 436.2L546.8 436.8L546.8 437.3L546.9 437.8L546.9 438.4L547.0 438.9L547.0 439.5L547.1 440.0L547.1 440.5L547.2 441.1L547.2 441.6L547.3 442.1L547.3 442.7L547.4 443.2L547.4 443.7L547.5 444.3L547.5 444.8L547.6 445.3L547.6 445.9L547.7 446.4L547.7 446.9L547.8 447.5L547.8 448.0L547.9 448.5L547.9 449.1L548.0 449.6L548.0 450.2L548.1 450.9L548.1 451.6L548.2 452.4L548.2 453.1L548.3 453.8L548.3 454.5L548.4 455.3L548.4 456.0L548.5 456.7L548.5 457.4L548.6 458.2L548.6 458.9L548.7 459.6L548.7 460.3L548.8 461.1L548.8 461.8L548.9 462.5L548.9 463.2L549.0 463.9L549.0 464.7L549.0 465.4L549.1 466.1L549.1 466.8L549.2 467.5L549.2 468.3L549.3 469.0L549.3 469.7L549.4 470.4L549.4 471.1L549.5 471.8L549.5 471.9L549.6 471.7L549.6 471.5L549.7 471.3L549.7 471.1L549.8 470.9L549.8 470.7L549.9 470.5L549.9 470.3L550.0 470.1L550.0 469.9L550.1 469.7L550.1 469.5L550.2 469.3L550.2 469.1L550.3 468.9L550.3 468.8L550.4 468.6L550.4 468.4L550.5 468.2L550.5 468.0L550.6 467.8L550.6 467.6L550.6 467.4L550.7 467.2L550.7 467.0L550.8 466.8L550.8 466.6L550.9 466.5L550.9 466.3L551.0 466.1L551.0 466.2L551.1 466.7L551.1 467.1L551.2 467.5L551.2 467.9L551.3 468.3L551.3 468.7L551.4 469.1L551.4 469.6L551.5 470.0L551.5 470.4L551.5 470.8L551.6 471.2L551.6 471.6L551.7 472.0L551.7 472.4L551.8 472.9L551.8 473.3L551.9 473.7L551.9 474.1L552.0 474.5L552.0 474.9L552.1 475.3L552.1 475.7L552.2 476.1L552.2 476.5L552.3 477.0L552.3 477.4L552.3 477.8L552.4 478.2L552.4 478.6L552.5 479.0L552.5 479.4L552.6 479.8L552.6 480.9L552.7 482.6L552.7 484.4L552.8 486.1L552.8 487.9L552.9 489.6L552.9 491.3L552.9 493.1L553.0 494.8L553.0 496.6L553.1 498.3L553.1 500.0L553.2 501.8L553.2 503.5L553.3 505.2L553.3 506.9L553.4 508.7L553.4 510.4L553.5 512.1L553.5 513.8L553.5 515.6L553.6 517.3L553.6 519.0L553.7 520.7L553.7 522.4L553.8 524.2L553.8 525.9L553.9 527.6L553.9 529.3L554.0 531.0L554.0 532.7L554.0 534.4L554.1 536.1L554.1 534.8L554.2 532.7L554.2 530.6L554.3 528.4L554.3 526.3L554.4 524.2L554.4 522.1L554.5 520.0L554.5 517.8L554.5 515.7L554.6 513.6L554.6 511.5L554.7 509.4L554.7 507.3L554.8 505.1L554.8 503.0L554.9 500.9L554.9 498.8L554.9 496.7L555.0 494.6L555.0 492.5L555.1 490.4L555.1 488.3L555.2 486.2L555.2 484.1L555.3 482.0L555.3 480.0L555.3 479.4L555.4 478.8L555.4 478.2L555.5 477.6L555.5 477.0L555.6 476.4L555.6 475.8L555.7 475.2L555.7 474.7L555.7 474.1L555.8 473.5L555.8 472.9L555.9 472.3L555.9 471.7L556.0 471.1L556.0 470.5L556.1 470.0L556.1 469.4L556.1 468.8L556.2 468.2L556.2 468.0L556.3 468.1L556.3 468.2L556.4 468.2L556.4 468.3L556.4 468.3L556.5 468.4L556.5 468.4L556.6 468.5L556.6 468.6L556.7 468.6L556.7 468.7L556.8 468.7L556.8 468.8L556.8 468.9L556.9 468.9L556.9 469.0L557.0 469.0L557.0 469.1L557.1 469.1L557.1 469.2L557.1 469.3L557.2 469.3L557.2 469.4L557.3 469.4L557.3 469.5L557.4 469.5L557.4 469.6L557.4 469.7L557.5 469.7L557.5 469.8L557.6 469.8L557.6 469.9L557.7 469.9L557.7 470.0L557.7 470.1L557.8 470.2L557.8 470.2L557.9 470.3L557.9 470.4L558.0 470.5L558.0 470.6L558.0 470.6L558.1 470.7L558.1 470.8L558.2 470.9L558.2 471.0L558.3 471.0L558.3 471.1L558.3 471.2L558.4 471.3L558.4 471.4L558.5 471.4L558.5 471.5L558.6 471.6L558.6 471.7L558.6 471.8L558.7 471.8L558.7 471.9L558.8 472.0L558.8 472.1L558.8 472.2L558.9 472.2L558.9 472.3L559.0 472.4L559.0 472.5L559.1 472.5L559.1 472.6L559.1 472.7L559.2 472.8L559.2 472.9L559.3 472.9L559.3 473.1L559.3 473.5L559.4 473.9L559.4 474.3L559.5 474.7L559.5 475.2L559.6 475.6L559.6 476.0L559.6 476.4L559.7 476.8L559.7 477.2L559.8 477.7L559.8 478.1L559.8 478.5L559.9 478.9L559.9 479.3L560.0 479.7L560.3 483.4L560.7 487.1L561.1 485.4L561.4 482.0L561.8 478.6L562.2 475.2L562.5 473.4L562.9 472.3L563.2 471.3L563.6 470.3L563.9 469.7L564.3 469.8L564.7 469.9L565.1 469.9L565.5 469.3L565.9 468.7L566.2 468.1L566.6 469.6L567.0 471.7L567.3 473.7L567.7 476.0L568.1 478.3L568.4 480.4L568.8 481.0L569.2 481.6L569.5 482.3L569.9 482.9L570.2 483.5L570.6 484.1L571.0 484.4L571.3 484.8L571.7 485.2L572.1 485.5L572.5 485.9L572.8 486.3L573.2 486.7L573.6 487.1L574.0 487.6L574.3 488.0L574.7 488.5L575.0 488.9L575.4 489.4L575.8 489.3L576.1 489.1L576.5 488.9L576.8 488.6L577.2 488.4L577.6 488.1L577.9 487.9L578.3 487.6L578.7 487.6L579.1 487.9L579.4 488.1L579.8 488.3L580.2 488.5L580.5 488.8L580.9 489.0L581.2 489.2L581.6 489.5L581.9 490.1L582.3 490.6L582.7 491.2L583.0 491.7L583.4 492.4L583.8 493.0L584.2 493.6L584.5 494.0L584.9 494.4L585.2 494.8L585.6 495.2L586.0 495.6L586.3 495.9L586.7 496.2L587.0 496.5L587.4 496.7L587.8 496.9L588.1 497.0L588.5 497.1L588.9 497.2L589.2 497.2L589.6 497.3L590.0 497.3L590.3 497.4L590.7 497.4L591.0 497.5L591.4 497.6L591.8 497.7L592.1 497.9L592.5 498.1L592.9 498.3L593.2 498.5L593.6 498.7L594.0 499.0L594.3 499.3L594.7 499.6L595.0 500.1L595.4 500.6L595.8 501.1L596.1 501.5L596.5 502.0L596.8 502.4L597.2 502.7L597.6 502.9L597.9 503.2L598.3 503.4L598.7 503.6L599.0 503.8L599.4 504.0L599.7 504.2L602.2 505.9L604.8 507.7L607.3 509.5L609.8 511.4L612.3 513.2L614.8 515.1L617.3 516.9L619.8 518.6L622.3 520.3L624.9 521.8L627.4 523.4L629.9 524.8L632.4 526.3L634.9 527.8L637.4 529.2L639.9 530.8L642.4 532.3L644.9 533.8L647.4 535.3L649.9 536.8L652.4 538.2L654.9 539.7L657.4 541.3L659.9 542.8L662.4 544.2L664.9 545.5L667.4 546.7L669.9 547.7L672.4 548.6L674.9 549.5L677.4 550.3L679.9 551.1L682.4 551.7L684.9 552.3L687.4 552.8L689.9 553.2L692.4 553.6L694.9 553.9L697.4 554.1L697.5 554.1" stroke="#d40000"/>
<path d="M90.0 202.0L133.8 208.8L160.5 219.3L178.8 224.2L192.6 241.7L204.0 268.9L213.7 320.0L222.3 369.3L229.6 369.1L237.4 369.1L243.4 306.6L248.5 296.9L253.9 304.2L258.0 299.3L263.6 279.1L267.3 281.8L273.3 276.2L278.2 270.9L283.8 280.6L287.9 277.4L291.5 277.6L295.2 277.4L298.1 270.1L300.6 273.3L302.5 272.6L305.0 278.6L307.4 276.2L310.5 280.5L313.5 284.7L317.0 289.0L320.3 293.2L323.0 292.5L325.6 292.0L328.0 297.0L329.9 301.5L332.0 303.0L333.6 305.0L334.8 319.3L336.4 305.0L337.8 297.5L339.3 303.0L340.8 295.6L343.0 301.0L345.7 307.4L347.7 305.0L349.7 304.0L351.6 313.4L353.6 316.0L355.6 319.3L357.5 323.0L359.5 327.2L361.5 324.0L363.5 321.3L365.4 327.0L367.4 333.1L369.4 332.0L371.4 331.0L373.0 336.0L373.4 335.9L374.2 337.4L374.9 333.3L375.6 329.4L376.4 352.4L377.1 362.9L377.8 342.2L378.5 328.7L379.2 362.1L379.9 337.6L380.6 362.5L381.3 389.7L381.9 364.8L382.6 371.7L383.3 363.1L383.9 380.5L384.6 352.4L385.2 488.0L385.8 375.4L386.5 395.1L387.1 372.2L387.7 353.5L388.3 421.5L388.9 380.2L389.5 387.3L390.1 359.9L390.7 382.6L391.2 373.0L391.8 423.3L392.4 369.4L392.9 462.0L393.5 365.1L394.1 361.8L394.6 370.4L395.2 417.8L395.7 444.5L396.2 417.1L396.8 442.4L397.3 448.6L397.8 375.7L398.3 406.0L398.8 373.8L399.4 382.7L399.9 460.7L400.4 377.1L400.9 363.4L401.4 387.8L401.8 376.0L402.3 358.4L402.8 387.6L403.3 438.7L403.8 365.7L404.2 373.4L404.7 379.8L405.2 366.9L405.6 397.2L406.1 374.6L406.6 436.1L407.0 470.3L407.5 372.9L407.9 373.0L408.3 388.8L408.8 344.7L409.2 393.0L409.7 386.7L410.1 417.6L410.5 368.0L410.9 421.7L411.4 413.2L411.8 370.3L412.2 384.4L412.6 354.3L413.0 408.1L413.4 367.2L413.8 367.9L414.2 403.2L414.6 384.5L415.0 365.9L415.4 347.5L415.8 406.4L416.2 372.4L416.6 442.9L417.0 445.5L417.4 437.4L417.8 403.8L418.1 378.2L418.5 402.5L418.9 349.4L419.3 390.1L419.6 396.4L420.0 345.3L420.4 377.7L420.7 376.3L421.1 427.0L421.5 350.0L421.8 406.6L422.2 354.8L422.5 423.2L422.9 406.9L423.2 360.3L423.6 367.5L423.9 382.7L424.3 456.6L424.6 394.3L425.0 369.2L425.3 358.5L425.6 360.4L426.0 387.4L426.3 372.7L426.7 376.5L427.0 357.3L427.3 333.7L427.6 380.2L428.0 350.9L428.3 347.4L428.6 402.7L428.9 370.8L429.3 360.2L429.6 343.2L429.9 370.5L430.2 326.3L430.5 335.2L430.8 397.5L431.1 371.8L431.4 322.2L431.7 322.3L432.1 402.2L432.4 384.0L432.7 347.2L433.0 365.2L433.3 374.9L433.6 357.2L433.9 314.4L434.2 331.9L434.4 318.6L434.7 401.4L435.0 349.1L435.3 339.7L435.6 337.6L435.9 321.0L436.2 372.1L436.5 315.6L436.8 321.4L437.0 320.6L437.3 315.7L437.6 298.3L437.9 368.1L438.2 287.0L438.4 364.7L438.7 328.3L439.0 316.6L439.3 316.4L439.5 333.4L439.8 341.7L440.1 315.4L440.3 343.9L440.6 314.1L440.9 346.9L441.1 427.3L441.4 386.6L441.7 399.2L441.9 322.8L442.2 426.5L442.4 332.7L442.7 445.4L443.0 392.1L443.2 334.0L443.5 355.8L443.7 406.3L444.0 345.6L444.2 360.7L444.5 446.5L444.7 332.0L445.0 334.4L445.2 371.7L445.5 373.5L445.7 373.3L446.0 393.5L446.2 390.4L446.5 354.6L446.7 362.7L446.9 424.6L447.2 381.6L447.4 346.0L447.7 360.2L447.9 351.2L448.1 331.1L448.4 388.4L448.6 400.3L448.8 351.7L449.1 334.6L449.3 363.0L449.5 375.3L449.8 382.1L450.0 329.5L450.2 337.2L450.5 371.9L450.7 422.3L450.9 417.6L451.2 399.4L451.4 368.2L451.6 372.2L451.8 343.2L452.1 434.5L452.3 327.5L452.5 345.4L452.7 339.6L452.9 401.9L453.2 383.0L453.4 385.3L453.6 405.0L453.8 318.4L454.0 372.8L454.2 337.4L454.5 438.8L454.7 376.4L454.9 390.9L455.1 390.8L455.3 367.0L455.5 414.1L455.7 394.4L455.9 338.5L456.2 373.2L456.4 359.6L456.6 361.3L456.8 353.4L457.0 419.1L457.2 369.8L457.4 417.0L457.6 375.0L457.8 415.1L458.0 351.7L458.2 429.5L458.4 445.6L458.6 398.5L458.8 421.6L459.0 403.4L459.2 400.7L459.4 374.8L459.6 385.6L459.8 364.7L460.0 349.0L460.2 353.4L460.4 500.2L460.6 362.5L460.8 448.8L461.0 359.9L461.2 385.7L461.4 362.9L461.6 371.7L461.8 398.4L462.0 415.6L462.1 443.5L462.3 443.7L462.5 453.3L462.7 392.3L462.9 392.8L463.1 366.8L463.3 367.4L463.5 367.3L463.6 378.3L463.8 390.2L464.0 381.5L464.2 440.5L464.4 423.9L464.6 373.8L464.8 366.5L464.9 375.3L465.1 427.7L465.3 423.0L465.5 352.5L465.7 399.3L465.8 364.7L466.0 516.1L466.2 398.2L466.4 404.4L466.6 400.4L466.7 412.3L466.9 442.2L467.1 408.0L467.3 396.5L467.4 474.4L467.6 362.7L467.8 402.1L468.0 388.4L468.1 428.7L468.3 409.2L468.5 427.8L468.7 427.4L468.8 483.8L469.0 441.8L469.2 394.2L469.3 389.5L469.5 382.4L469.9 374.7L470.2 447.5L470.5 407.7L470.9 398.8L471.2 515.5L471.5 425.6L471.8 371.1L472.2 421.4L472.5 435.3L472.8 399.5L473.1 462.5L473.5 409.4L473.8 490.9L474.1 429.4L474.4 500.3L474.7 436.4L475.0 473.4L475.4 451.4L475.7 397.3L476.0 404.8L476.3 447.8L476.6 401.5L476.9 486.3L477.2 387.3L477.5 423.9L477.8 394.2L478.1 422.2L478.4 468.6L478.7 446.3L479.0 453.4L479.3 413.1L479.5 415.5L479.8 462.9L480.1 459.2L480.4 414.4L480.7 468.8L481.0 431.8L481.3 521.7L481.5 428.5L481.8 425.7L482.1 399.1L482.4 447.2L482.7 470.1L482.9 405.2L483.2 446.1L483.5 449.2L483.8 467.2L484.0 445.5L484.3 460.4L484.6 404.3L484.8 422.2L485.1 462.1L485.4 458.6L485.6 437.8L485.9 511.3L486.2 402.5L486.4 435.1L486.7 412.7L486.9 438.0L487.2 468.9L487.5 499.6L487.7 454.4L488.0 454.3L488.2 414.6L488.5 504.5L488.7 523.9L489.0 450.1L489.2 423.9L489.5 465.9L489.7 444.4L490.0 419.6L490.2 419.9L490.5 436.8L490.7 442.1L491.0 456.7L491.2 443.1L491.4 416.8L491.7 456.3L491.9 459.9L492.2 425.0L492.4 467.6L492.6 442.7L492.9 469.7L493.1 454.8L493.3 441.3L493.6 422.6L493.9 436.1L494.3 455.7L494.6 442.8L495.0 449.1L495.3 434.1L495.6 445.1L496.0 437.7L496.3 459.3L496.6 454.5L497.0 440.6L497.3 433.6L497.6 453.4L498.0 456.4L498.3 477.5L498.6 464.0L498.9 432.7L499.3 455.9L499.6 441.9L499.9 470.4L500.2 452.5L500.5 481.0L500.8 455.9L501.2 445.7L501.5 455.5L501.8 461.6L502.1 470.3L502.5 469.0L502.9 475.0L503.3 446.0L503.7 466.4L504.1 455.4L504.5 448.4L504.9 474.0L505.3 476.7L505.7 445.7L506.0 445.2L506.4 493.5L506.9 457.0L507.4 462.3L507.8 499.1L508.3 452.3L508.8 468.8L509.2 459.2L509.8 459.9L510.3 474.1L510.8 479.7L511.4 472.9L512.0 475.8L512.6 462.9L513.2 471.3L513.8 463.7L514.5 468.0L515.2 467.8L516.1 468.5L517.0 472.3L517.9 468.4L519.0 469.5L520.2 470.1L521.5 470.4L522.8 471.4L524.1 472.4L524.1 472.5L524.2 472.5L524.3 472.6L524.4 472.7L524.4 472.7L524.5 472.8L524.6 472.8L524.6 472.9L524.7 472.9L524.8 473.0L524.9 473.0L524.9 473.1L525.0 473.1L525.1 473.2L525.1 473.3L525.2 473.3L525.3 473.4L525.4 473.4L525.4 473.5L525.5 473.5L525.6 473.6L525.6 473.6L525.7 473.7L525.8 473.7L525.9 473.8L525.9 473.9L526.0 473.9L526.1 474.0L526.1 474.0L526.2 474.1L526.3 474.1L526.3 474.2L526.4 474.2L526.5 474.3L526.6 474.3L526.6 474.4L526.7 474.4L526.8 474.5L526.8 474.6L526.9 474.6L527.0 474.7L527.0 474.7L527.1 474.8L527.2 474.8L527.2 474.9L527.3 474.9L527.4 475.0L527.5 475.0L527.5 475.1L527.6 475.1L527.7 475.2L527.7 475.2L527.8 475.3L527.9 475.3L527.9 475.4L528.0 475.5L528.1 475.5L528.1 475.6L528.2 475.6L528.3 475.7L528.3 475.7L528.4 475.8L528.5 475.8L528.5 475.9L528.6 475.9L528.7 476.0L528.7 476.0L528.8 476.1L528.9 476.1L528.9 476.2L529.0 476.2L529.1 476.3L529.1 476.3L529.2 476.4L529.3 476.4L529.3 476.5L529.4 476.5L529.5 476.6L529.5 476.6L529.6 476.7L529.7 476.7L529.7 476.8L529.8 476.8L529.9 476.9L529.9 476.9L530.0 477.0L530.1 477.1L530.1 477.1L530.2 477.2L530.3 477.2L530.3 477.3L530.4 477.3L530.5 477.4L530.5 477.4L530.6 477.4L530.7 477.5L530.7 477.5L530.8 477.6L530.9 477.6L530.9 477.7L531.0 477.7L531.1 477.8L531.1 477.8L531.2 477.9L531.3 477.9L531.3 478.0L531.4 478.0L531.4 478.1L531.5 478.1L531.6 478.2L531.6 478.2L531.7 478.3L531.8 478.3L531.8 478.4L531.9 478.4L532.0 478.5L532.0 478.5L532.1 478.6L532.2 478.6L532.2 478.6L532.3 478.7L532.3 478.7L532.4 478.8L532.5 478.8L532.5 478.9L532.6 478.9L532.7 479.0L532.7 479.0L532.8 479.1L532.8 479.1L532.9 479.2L533.0 479.2L533.0 479.3L533.1 479.3L533.2 479.4L533.2 479.4L533.3 479.4L533.4 479.5L533.4 479.5L533.5 479.6L533.5 479.6L533.6 479.7L533.7 479.7L533.7 479.8L533.8 479.8L533.9 479.9L533.9 479.9L534.0 480.0L534.0 480.0L534.1 480.1L534.2 480.1L534.2 480.1L534.3 480.2L534.3 480.2L534.4 480.3L534.5 480.3L534.5 480.4L534.6 480.4L534.7 480.5L534.7 480.5L534.8 480.6L534.8 480.6L534.9 480.6L535.0 480.7L535.0 480.7L535.1 480.8L535.1 480.8L535.2 480.9L535.3 480.9L535.3 481.0L535.4 481.0L535.4 481.1L535.5 481.1L535.6 481.1L535.6 481.2L535.7 481.2L535.7 481.3L535.8 481.3L535.9 481.4L535.9 481.4L536.0 481.5L536.1 481.5L536.1 481.5L536.2 481.6L536.2 481.6L536.3 481.7L536.4 481.7L536.4 481.8L536.5 481.8L536.5 481.9L536.6 481.9L536.6 481.9L536.7 482.0L536.8 482.0L536.8 482.1L536.9 482.1L536.9 482.2L537.0 482.2L537.1 482.3L537.1 482.3L537.2 482.3L537.2 482.4L537.3 482.4L537.4 482.5L537.4 482.5L537.5 482.6L537.5 482.6L537.6 482.6L537.7 482.7L537.7 482.7L537.8 482.8L537.8 482.8L537.9 482.9L537.9 482.9L538.0 483.0L538.1 483.0L538.1 483.0L538.2 483.1L538.2 483.1L538.3 483.2L538.4 483.2L538.4 483.3L538.5 483.3L538.5 483.3L538.6 483.4L538.6 483.4L538.7 483.5L538.8 483.5L538.8 483.6L538.9 483.6L538.9 483.6L539.0 483.7L539.0 483.7L539.1 483.8L539.2 483.8L539.2 483.9L539.3 483.9L539.3 483.9L539.4 484.0L539.4 484.0L539.5 484.1L539.6 484.1L539.6 484.1L539.7 484.2L539.7 484.2L539.8 484.3L539.8 484.3L539.9 484.4L540.0 484.4L540.0 484.4L540.1 484.5L540.1 484.5L540.2 484.6L540.2 484.6L540.3 484.7L540.3 484.7L540.4 484.7L540.5 484.8L540.5 484.8L540.6 484.9L540.6 484.9L540.7 484.9L540.7 485.0L540.8 485.0L540.9 485.1L540.9 485.1L541.0 485.2L541.0 485.2L541.1 485.2L541.1 485.3L541.2 485.3L541.2 485.4L541.3 485.4L541.3 485.4L541.4 485.5L541.5 485.5L541.5 485.6L541.6 485.6L541.6 485.6L541.7 485.7L541.7 485.7L541.8 485.8L541.8 485.8L541.9 485.8L542.0 485.9L542.0 485.9L542.1 486.0L542.1 486.0L542.2 486.1L542.2 486.1L542.3 486.1L542.3 486.2L542.4 486.2L542.4 486.3L542.5 486.3L542.6 486.3L542.6 486.4L542.7 486.4L542.7 486.5L542.8 486.5L542.8 486.5L542.9 486.6L542.9 486.6L543.0 486.7L543.0 486.7L543.1 486.7L543.1 486.8L543.2 486.8L543.3 486.9L543.3 486.9L543.4 486.9L543.4 487.0L543.5 487.0L543.5 487.1L543.6 487.1L543.6 487.1L543.7 487.2L543.7 487.2L543.8 487.3L543.8 487.3L543.9 487.3L543.9 487.4L544.0 487.4L544.1 487.5L544.1 487.5L544.2 487.5L544.2 487.6L544.3 487.6L544.3 487.6L544.4 487.7L544.4 487.7L544.5 487.8L544.5 487.8L544.6 487.8L544.6 487.9L544.7 487.9L544.7 488.0L544.8 488.0L544.8 488.0L544.9 488.1L545.0 488.1L545.0 488.2L545.1 488.2L545.1 488.2L545.2 488.3L545.2 488.3L545.3 488.3L545.3 488.4L545.4 488.4L545.4 488.5L545.5 488.5L545.5 488.5L545.6 488.6L545.6 488.6L545.7 488.7L545.7 488.7L545.8 488.7L545.8 488.8L545.9 488.8L545.9 488.8L546.0 488.9L546.0 488.9L546.1 489.0L546.1 489.0L546.2 489.0L546.2 489.1L546.3 489.1L546.3 489.1L546.4 489.2L546.4 489.2L546.5 489.3L546.6 489.3L546.6 489.3L546.7 489.4L546.7 489.4L546.8 489.4L546.8 489.5L546.9 489.5L546.9 489.5L547.0 489.6L547.0 489.6L547.1 489.7L547.1 489.7L547.2 489.7L547.2 489.8L547.3 489.8L547.3 489.8L547.4 489.9L547.4 489.9L547.5 489.9L547.5 490.0L547.6 490.0L547.6 490.1L547.7 490.1L547.7 490.1L547.8 490.2L547.8 490.2L547.9 490.2L547.9 490.3L548.0 490.3L548.0 490.3L548.1 490.4L548.1 490.4L548.2 490.5L548.2 490.5L548.3 490.5L548.3 490.6L548.4 490.6L548.4 490.6L548.5 490.7L548.5 490.7L548.6 490.7L548.6 490.8L548.7 490.8L548.7 490.8L548.8 490.9L548.8 490.9L548.9 491.0L548.9 491.0L549.0 491.0L549.0 491.1L549.0 491.1L549.1 491.1L549.1 491.2L549.2 491.2L549.2 491.2L549.3 491.3L549.3 491.3L549.4 491.3L549.4 491.4L549.5 491.4L549.5 491.4L549.6 491.5L549.6 491.5L549.7 491.6L549.7 491.6L549.8 491.6L549.8 491.7L549.9 491.7L549.9 491.7L550.0 491.8L550.0 491.8L550.1 491.8L550.1 491.9L550.2 491.9L550.2 491.9L550.3 492.0L550.3 492.0L550.4 492.0L550.4 492.1L550.5 492.1L550.5 492.1L550.6 492.2L550.6 492.2L550.6 492.3L550.7 492.3L550.7 492.3L550.8 492.4L550.8 492.4L550.9 492.4L550.9 492.5L551.0 492.5L551.0 492.5L551.1 492.6L551.1 492.6L551.2 492.6L551.2 492.7L551.3 492.7L551.3 492.7L551.4 492.8L551.4 492.8L551.5 492.8L551.5 492.9L551.5 492.9L551.6 492.9L551.6 493.0L551.7 493.0L551.7 493.0L551.8 493.1L551.8 493.1L551.9 493.1L551.9 493.2L552.0 493.2L552.0 493.2L552.1 493.3L552.1 493.3L552.2 493.3L552.2 493.4L552.3 493.4L552.3 493.4L552.3 493.5L552.4 493.5L552.4 493.5L552.5 493.6L552.5 493.6L552.6 493.6L552.6 493.7L552.7 493.7L552.7 493.7L552.8 493.8L552.8 493.8L552.9 493.9L552.9 493.9L552.9 493.9L553.0 494.0L553.0 494.0L553.1 494.0L553.1 494.1L553.2 494.1L553.2 494.1L553.3 494.2L553.3 494.2L553.4 494.2L553.4 494.2L553.5 494.3L553.5 494.3L553.5 494.3L553.6 494.4L553.6 494.4L553.7 494.4L553.7 494.5L553.8 494.5L553.8 494.5L553.9 494.6L553.9 494.6L554.0 494.6L554.0 494.7L554.0 494.7L554.1 494.7L554.1 494.8L554.2 494.8L554.2 494.8L554.3 494.9L554.3 494.9L554.4 494.9L554.4 495.0L554.5 495.0L554.5 495.0L554.5 495.1L554.6 495.1L554.6 495.1L554.7 495.2L554.7 495.2L554.8 495.2L554.8 495.3L554.9 495.3L554.9 495.3L554.9 495.4L555.0 495.4L555.0 495.4L555.1 495.5L555.1 495.5L555.2 495.5L555.2 495.6L555.3 495.6L555.3 495.6L555.3 495.7L555.4 495.7L555.4 495.7L555.5 495.7L555.5 495.8L555.6 495.8L555.6 495.8L555.7 495.9L555.7 495.9L555.7 495.9L555.8 496.0L555.8 496.0L555.9 496.0L555.9 496.1L556.0 496.1L556.0 496.1L556.1 496.2L556.1 496.2L556.1 496.2L556.2 496.3L556.2 496.3L556.3 496.3L556.3 496.4L556.4 496.4L556.4 496.4L556.4 496.4L556.5 496.5L556.5 496.5L556.6 496.5L556.6 496.6L556.7 496.6L556.7 496.6L556.8 496.7L556.8 496.7L556.8 496.7L556.9 496.8L556.9 496.8L557.0 496.8L557.0 496.9L557.1 496.9L557.1 496.9L557.1 497.0L557.2 497.0L557.2 497.0L557.3 497.0L557.3 497.1L557.4 497.1L557.4 497.1L557.4 497.2L557.5 497.2L557.5 497.2L557.6 497.3L557.6 497.3L557.7 497.3L557.7 497.4L557.7 497.4L557.8 497.4L557.8 497.5L557.9 497.5L557.9 497.5L558.0 497.5L558.0 497.6L558.0 497.6L558.1 497.6L558.1 497.7L558.2 497.7L558.2 497.7L558.3 497.8L558.3 497.8L558.3 497.8L558.4 497.9L558.4 497.9L558.5 497.9L558.5 497.9L558.6 498.0L558.6 498.0L558.6 498.0L558.7 498.1L558.7 498.1L558.8 498.1L558.8 498.2L558.8 498.2L558.9 498.2L558.9 498.2L559.0 498.3L559.0 498.3L559.1 498.3L559.1 498.4L559.1 498.4L559.2 498.4L559.2 498.5L559.3 498.5L559.3 498.5L559.3 498.6L559.4 498.6L559.4 498.6L559.5 498.6L559.5 498.7L559.6 498.7L559.6 498.7L559.6 498.8L559.7 498.8L559.7 498.8L559.8 498.9L559.8 498.9L559.8 498.9L559.9 498.9L559.9 499.0L560.0 499.0L560.3 499.3L560.7 499.5L561.1 499.8L561.4 500.1L561.8 500.3L562.2 500.6L562.5 500.8L562.9 501.1L563.2 501.3L563.6 501.6L563.9 501.9L564.3 502.1L564.7 502.4L565.1 502.7L565.5 503.0L565.9 503.2L566.2 503.5L566.6 503.8L567.0 504.0L567.3 504.3L567.7 504.6L568.1 504.8L568.4 505.1L568.8 505.3L569.2 505.6L569.5 505.8L569.9 506.1L570.2 506.4L570.6 506.6L571.0 506.9L571.3 507.2L571.7 507.4L572.1 507.7L572.5 508.0L572.8 508.2L573.2 508.5L573.6 508.8L574.0 509.0L574.3 509.3L574.7 509.6L575.0 509.8L575.4 510.1L575.8 510.3L576.1 510.6L576.5 510.8L576.8 511.1L577.2 511.3L577.6 511.6L577.9 511.9L578.3 512.1L578.7 512.4L579.1 512.7L579.4 512.9L579.8 513.2L580.2 513.4L580.5 513.7L580.9 514.0L581.2 514.2L581.6 514.5L581.9 514.7L582.3 515.0L582.7 515.2L583.0 515.5L583.4 515.8L583.8 516.0L584.2 516.3L584.5 516.6L584.9 516.8L585.2 517.1L585.6 517.3L586.0 517.6L586.3 517.8L586.7 518.1L587.0 518.4L587.4 518.6L587.8 518.9L588.1 519.1L588.5 519.4L588.9 519.7L589.2 519.9L589.6 520.2L590.0 520.4L590.3 520.7L590.7 520.9L591.0 521.2L591.4 521.4L591.8 521.7L592.1 521.9L592.5 522.2L592.9 522.5L593.2 522.7L593.6 523.0L594.0 523.3L594.3 523.5L594.7 523.8L595.0 524.0L595.4 524.3L595.8 524.5L596.1 524.8L596.5 525.1L596.8 525.3L597.2 525.6L597.6 525.8L597.9 526.1L598.3 526.4L598.7 526.6L599.0 526.9L599.4 527.1L599.7 527.4L602.2 529.2L604.8 530.9L607.3 532.6L609.8 534.2L612.3 535.9L614.8 537.5L617.3 539.0L619.8 540.6L622.3 542.2L624.9 543.7L627.4 545.2L629.9 546.7L632.4 548.2L634.9 549.7L637.4 551.1L639.9 552.6L642.4 554.1L644.9 555.6L647.4 557.1L649.9 558.6L652.4 560.0L654.9 561.5L657.4 562.9L659.9 564.4L662.4 565.8L664.9 567.1L667.4 568.4L669.9 569.7L672.4 570.9L674.9 572.0L677.4 573.2L679.9 574.2L682.4 575.2L684.9 576.1L687.4 577.0L689.9 577.7L692.4 578.3L694.9 578.8L697.4 579.3L697.5 579.3" stroke="#3838ff"/>
</g>
<line x1="412.5" y1="207.8" x2="558.6" y2="387.8" stroke="#000" stroke-width="2.1" stroke-dasharray="15.2 15.6"/>
<line x1="412.5" y1="240.5" x2="558.6" y2="420.5" stroke="#000" stroke-width="2.1" stroke-dasharray="15.2 15.6"/>
<line x1="412.5" y1="316.4" x2="558.6" y2="496.4" stroke="#000" stroke-width="2.1" stroke-dasharray="15.2 15.6"/>
<g stroke="#000">
<line x1="90.4" y1="570.1" x2="103.0" y2="570.1" stroke-width="2.4"/>
<line x1="90.4" y1="461.8" x2="103.0" y2="461.8" stroke-width="2.4"/>
<line x1="90.4" y1="353.4" x2="103.0" y2="353.4" stroke-width="2.4"/>
<line x1="90.4" y1="245.0" x2="103.0" y2="245.0" stroke-width="2.4"/>
<line x1="90.4" y1="136.7" x2="103.0" y2="136.7" stroke-width="2.4"/>
<line x1="90.4" y1="28.3" x2="103.0" y2="28.3" stroke-width="2.4"/>
<line x1="90.4" y1="575.1" x2="98.0" y2="575.1" stroke-width="1" stroke="#333"/>
<line x1="90.4" y1="537.5" x2="98.0" y2="537.5" stroke-width="1" stroke="#333"/>
<line x1="90.4" y1="518.4" x2="98.0" y2="518.4" stroke-width="1" stroke="#333"/>
<line x1="90.4" y1="504.9" x2="98.0" y2="504.9" stroke-width="1" stroke="#333"/>
<line x1="90.4" y1="494.4" x2="98.0" y2="494.4" stroke-width="1" stroke="#333"/>
<line x1="90.4" y1="485.8" x2="98.0" y2="485.8" stroke-width="1" stroke="#333"/>
<line x1="90.4" y1="478.5" x2="98.0" y2="478.5" stroke-width="1" stroke="#333"/>
<line x1="90.4" y1="472.3" x2="98.0" y2="472.3" stroke-width="1" stroke="#333"/>
<line x1="90.4" y1="466.7" x2="98.0" y2="466.7" stroke-width="1" stroke="#333"/>
<line x1="90.4" y1="429.1" x2="98.0" y2="429.1" stroke-width="1" stroke="#333"/>
<line x1="90.4" y1="410.1" x2="98.0" y2="410.1" stroke-width="1" stroke="#333"/>
<line x1="90.4" y1="396.5" x2="98.0" y2="396.5" stroke-width="1" stroke="#333"/>
<line x1="90.4" y1="386.0" x2="98.0" y2="386.0" stroke-width="1" stroke="#333"/>
<line x1="90.4" y1="377.4" x2="98.0" y2="377.4" stroke-width="1" stroke="#333"/>
<line x1="90.4" y1="370.2" x2="98.0" y2="370.2" stroke-width="1" stroke="#333"/>
<line x1="90.4" y1="363.9" x2="98.0" y2="363.9" stroke-width="1" stroke="#333"/>
<line x1="90.4" y1="358.4" x2="98.0" y2="358.4" stroke-width="1" stroke="#333"/>
<line x1="90.4" y1="320.8" x2="98.0" y2="320.8" stroke-width="1" stroke="#333"/>
<line x1="90.4" y1="301.7" x2="98.0" y2="301.7" stroke-width="1" stroke="#333"/>
<line x1="90.4" y1="288.2" x2="98.0" y2="288.2" stroke-width="1" stroke="#333"/>
<line x1="90.4" y1="277.7" x2="98.0" y2="277.7" stroke-width="1" stroke="#333"/>
<line x1="90.4" y1="269.1" x2="98.0" y2="269.1" stroke-width="1" stroke="#333"/>
<line x1="90.4" y1="261.8" x2="98.0" y2="261.8" stroke-width="1" stroke="#333"/>
<line x1="90.4" y1="255.5" x2="98.0" y2="255.5" stroke-width="1" stroke="#333"/>
<line x1="90.4" y1="250.0" x2="98.0" y2="250.0" stroke-width="1" stroke="#333"/>
<line x1="90.4" y1="212.4" x2="98.0" y2="212.4" stroke-width="1" stroke="#333"/>
<line x1="90.4" y1="193.3" x2="98.0" y2="193.3" stroke-width="1" stroke="#333"/>
<line x1="90.4" y1="179.8" x2="98.0" y2="179.8" stroke-width="1" stroke="#333"/>
<line x1="90.4" y1="169.3" x2="98.0" y2="169.3" stroke-width="1" stroke="#333"/>
<line x1="90.4" y1="160.7" x2="98.0" y2="160.7" stroke-width="1" stroke="#333"/>
<line x1="90.4" y1="153.5" x2="98.0" y2="153.5" stroke-width="1" stroke="#333"/>
<line x1="90.4" y1="147.2" x2="98.0" y2="147.2" stroke-width="1" stroke="#333"/>
<line x1="90.4" y1="141.6" x2="98.0" y2="141.6" stroke-width="1" stroke="#333"/>
<line x1="90.4" y1="104.1" x2="98.0" y2="104.1" stroke-width="1" stroke="#333"/>
<line x1="90.4" y1="85.0" x2="98.0" y2="85.0" stroke-width="1" stroke="#333"/>
<line x1="90.4" y1="71.4" x2="98.0" y2="71.4" stroke-width="1" stroke="#333"/>
<line x1="90.4" y1="60.9" x2="98.0" y2="60.9" stroke-width="1" stroke="#333"/>
<line x1="90.4" y1="52.4" x2="98.0" y2="52.4" stroke-width="1" stroke="#333"/>
<line x1="90.4" y1="45.1" x2="98.0" y2="45.1" stroke-width="1" stroke="#333"/>
<line x1="90.4" y1="38.8" x2="98.0" y2="38.8" stroke-width="1" stroke="#333"/>
<line x1="90.4" y1="33.3" x2="98.0" y2="33.3" stroke-width="1" stroke="#333"/>
<line x1="162.7" y1="578.3" x2="162.7" y2="565.6999999999999" stroke-width="2.4"/>
<line x1="310.1" y1="578.3" x2="310.1" y2="565.6999999999999" stroke-width="2.4"/>
<line x1="457.5" y1="578.3" x2="457.5" y2="565.6999999999999" stroke-width="2.4"/>
<line x1="604.9" y1="578.3" x2="604.9" y2="565.6999999999999" stroke-width="2.4"/>
<line x1="104.0" y1="578.3" x2="104.0" y2="570.6999999999999" stroke-width="1" stroke="#333"/>
<line x1="118.3" y1="578.3" x2="118.3" y2="570.6999999999999" stroke-width="1" stroke="#333"/>
<line x1="130.0" y1="578.3" x2="130.0" y2="570.6999999999999" stroke-width="1" stroke="#333"/>
<line x1="139.9" y1="578.3" x2="139.9" y2="570.6999999999999" stroke-width="1" stroke="#333"/>
<line x1="148.4" y1="578.3" x2="148.4" y2="570.6999999999999" stroke-width="1" stroke="#333"/>
<line x1="156.0" y1="578.3" x2="156.0" y2="570.6999999999999" stroke-width="1" stroke="#333"/>
<line x1="207.1" y1="578.3" x2="207.1" y2="570.6999999999999" stroke-width="1" stroke="#333"/>
<line x1="233.0" y1="578.3" x2="233.0" y2="570.6999999999999" stroke-width="1" stroke="#333"/>
<line x1="251.4" y1="578.3" x2="251.4" y2="570.6999999999999" stroke-width="1" stroke="#333"/>
<line x1="265.7" y1="578.3" x2="265.7" y2="570.6999999999999" stroke-width="1" stroke="#333"/>
<line x1="277.4" y1="578.3" x2="277.4" y2="570.6999999999999" stroke-width="1" stroke="#333"/>
<line x1="287.3" y1="578.3" x2="287.3" y2="570.6999999999999" stroke-width="1" stroke="#333"/>
<line x1="295.8" y1="578.3" x2="295.8" y2="570.6999999999999" stroke-width="1" stroke="#333"/>
<line x1="303.4" y1="578.3" x2="303.4" y2="570.6999999999999" stroke-width="1" stroke="#333"/>
<line x1="354.5" y1="578.3" x2="354.5" y2="570.6999999999999" stroke-width="1" stroke="#333"/>
<line x1="380.4" y1="578.3" x2="380.4" y2="570.6999999999999" stroke-width="1" stroke="#333"/>
<line x1="398.8" y1="578.3" x2="398.8" y2="570.6999999999999" stroke-width="1" stroke="#333"/>
<line x1="413.1" y1="578.3" x2="413.1" y2="570.6999999999999" stroke-width="1" stroke="#333"/>
<line x1="424.8" y1="578.3" x2="424.8" y2="570.6999999999999" stroke-width="1" stroke="#333"/>
<line x1="434.7" y1="578.3" x2="434.7" y2="570.6999999999999" stroke-width="1" stroke="#333"/>
<line x1="443.2" y1="578.3" x2="443.2" y2="570.6999999999999" stroke-width="1" stroke="#333"/>
<line x1="450.8" y1="578.3" x2="450.8" y2="570.6999999999999" stroke-width="1" stroke="#333"/>
<line x1="501.9" y1="578.3" x2="501.9" y2="570.6999999999999" stroke-width="1" stroke="#333"/>
<line x1="527.8" y1="578.3" x2="527.8" y2="570.6999999999999" stroke-width="1" stroke="#333"/>
<line x1="546.2" y1="578.3" x2="546.2" y2="570.6999999999999" stroke-width="1" stroke="#333"/>
<line x1="560.5" y1="578.3" x2="560.5" y2="570.6999999999999" stroke-width="1" stroke="#333"/>
<line x1="572.2" y1="578.3" x2="572.2" y2="570.6999999999999" stroke-width="1" stroke="#333"/>
<line x1="582.1" y1="578.3" x2="582.1" y2="570.6999999999999" stroke-width="1" stroke="#333"/>
<line x1="590.6" y1="578.3" x2="590.6" y2="570.6999999999999" stroke-width="1" stroke="#333"/>
<line x1="598.2" y1="578.3" x2="598.2" y2="570.6999999999999" stroke-width="1" stroke="#333"/>
<line x1="649.3" y1="578.3" x2="649.3" y2="570.6999999999999" stroke-width="1" stroke="#333"/>
<line x1="675.2" y1="578.3" x2="675.2" y2="570.6999999999999" stroke-width="1" stroke="#333"/>
<line x1="693.6" y1="578.3" x2="693.6" y2="570.6999999999999" stroke-width="1" stroke="#333"/>
</g>
<rect x="90.4" y="22.4" width="606.1" height="555.9" fill="none" stroke="#000" stroke-width="2.5"/>
<text transform="translate(81.8 578.4) scale(1 1.04)" text-anchor="end" font-family="Liberation Sans, Arial, Helvetica, sans-serif" font-size="26">10<tspan font-size="16.3" dy="-12.4">-2</tspan></text>
<text transform="translate(81.8 470.1) scale(1 1.04)" text-anchor="end" font-family="Liberation Sans, Arial, Helvetica, sans-serif" font-size="26">10<tspan font-size="16.3" dy="-12.4">-1</tspan></text>
<text transform="translate(81.8 361.7) scale(1 1.04)" text-anchor="end" font-family="Liberation Sans, Arial, Helvetica, sans-serif" font-size="26">10<tspan font-size="16.3" dy="-12.4">0</tspan></text>
<text transform="translate(81.8 253.3) scale(1 1.04)" text-anchor="end" font-family="Liberation Sans, Arial, Helvetica, sans-serif" font-size="26">10<tspan font-size="16.3" dy="-12.4">1</tspan></text>
<text transform="translate(81.8 145.0) scale(1 1.04)" text-anchor="end" font-family="Liberation Sans, Arial, Helvetica, sans-serif" font-size="26">10<tspan font-size="16.3" dy="-12.4">2</tspan></text>
<text transform="translate(81.8 36.6) scale(1 1.04)" text-anchor="end" font-family="Liberation Sans, Arial, Helvetica, sans-serif" font-size="26">10<tspan font-size="16.3" dy="-12.4">3</tspan></text>
<text transform="translate(163.3 609.4) scale(1 1.04)" text-anchor="middle" font-family="Liberation Sans, Arial, Helvetica, sans-serif" font-size="26">10<tspan font-size="16.3" dy="-12.4">2</tspan></text>
<text transform="translate(310.7 609.4) scale(1 1.04)" text-anchor="middle" font-family="Liberation Sans, Arial, Helvetica, sans-serif" font-size="26">10<tspan font-size="16.3" dy="-12.4">3</tspan></text>
<text transform="translate(458.1 609.4) scale(1 1.04)" text-anchor="middle" font-family="Liberation Sans, Arial, Helvetica, sans-serif" font-size="26">10<tspan font-size="16.3" dy="-12.4">4</tspan></text>
<text transform="translate(605.5 609.4) scale(1 1.04)" text-anchor="middle" font-family="Liberation Sans, Arial, Helvetica, sans-serif" font-size="26">10<tspan font-size="16.3" dy="-12.4">5</tspan></text>
<text transform="translate(393 638.4) scale(1 1.04)" text-anchor="middle" font-family="Liberation Sans, Arial, Helvetica, sans-serif" font-size="30" font-weight="bold">Frequency (Hz)</text>
<text transform="translate(30.5 300.3) rotate(-90) scale(1 1.04)" text-anchor="middle" font-family="Liberation Sans, Arial, Helvetica, sans-serif" font-size="30" font-weight="bold">PSD (W/Hz)</text>
<line x1="446.7" y1="54.1" x2="564.6" y2="54.1" stroke="#00cc00" stroke-width="1.6"/>
<text transform="translate(584 61.9) scale(1 1.04)" text-anchor="start" font-family="Liberation Sans, Arial, Helvetica, sans-serif" font-size="25.7" font-weight="bold">point 1</text>
<line x1="446.7" y1="85.7" x2="564.6" y2="85.7" stroke="#d40000" stroke-width="1.6"/>
<text transform="translate(584 93.6) scale(1 1.04)" text-anchor="start" font-family="Liberation Sans, Arial, Helvetica, sans-serif" font-size="25.7" font-weight="bold">point 2</text>
<line x1="446.7" y1="117.2" x2="564.6" y2="117.2" stroke="#4a4aff" stroke-width="1.6"/>
<text transform="translate(584 125.3) scale(1 1.04)" text-anchor="start" font-family="Liberation Sans, Arial, Helvetica, sans-serif" font-size="25.7" font-weight="bold">point 3</text>
<line x1="446.5" y1="148.8" x2="564.6" y2="148.8" stroke="#000" stroke-width="2.6" stroke-dasharray="11.8 11.85"/>
<text transform="translate(584 157.0) scale(1 1.04)" text-anchor="start" font-family="Liberation Sans, Arial, Helvetica, sans-serif" font-size="25.7" font-weight="bold">-5/3 law</text>
<text transform="translate(386 178) scale(1 1.04)" text-anchor="start" font-family="Liberation Sans, Arial, Helvetica, sans-serif" font-size="22.7">vortex shedding</text>
<line x1="448.3" y1="184.4" x2="440.0" y2="194.3" stroke="#000" stroke-width="1.6"/>
<polygon points="428.1,208.5 436.3,191.2 443.7,197.4" fill="#000"/>
<line x1="458.5" y1="185.6" x2="442.3" y2="271.0" stroke="#000" stroke-width="1.6"/>
<polygon points="438.8,289.2 437.5,270.1 447.0,271.9" fill="#000"/>
<line x1="469.2" y1="184.4" x2="463.0" y2="248.3" stroke="#000" stroke-width="1.6"/>
<polygon points="461.2,266.7 458.2,247.8 467.8,248.8" fill="#000"/>
<path d="M139.2 418.6C139.3 417.3 139.4 415.5 140.5 413.4C141.6 411.2 143.5 408.1 145.7 405.7C147.8 403.3 150.4 400.8 153.4 399.2C156.4 397.6 160.4 396.5 163.8 395.9C167.2 395.2 170.7 395.1 174.1 395.3C177.5 395.6 180.9 396.1 184.4 397.4C187.9 398.7 191.4 400.4 194.8 403.1C198.2 405.8 202.1 409.9 205.1 413.4C208.1 416.8 210.3 419.9 212.9 423.8C215.5 427.7 218.0 432.4 220.6 436.7C223.2 441.0 225.8 445.3 228.4 449.6C231.0 453.9 233.7 458.4 236.1 462.5C238.5 466.6 240.4 469.9 242.6 474.2C244.8 478.5 246.9 483.4 249.1 488.4C251.2 493.3 253.6 498.7 255.5 503.9C257.4 509.1 259.2 514.2 260.7 519.4C262.2 524.6 263.8 531.4 264.6 534.9C265.4 538.4 265.5 538.8 265.3 540.1C265.1 541.4 264.3 542.9 263.6 542.9C262.9 542.9 262.2 542.5 260.9 540.3C259.5 538.1 257.5 533.6 255.5 529.7C253.5 525.8 251.5 521.5 249.1 516.8C246.7 512.1 243.9 506.2 241.3 501.3C238.7 496.4 236.2 491.6 233.6 487.1C231.0 482.6 228.4 478.3 225.8 474.2C223.2 470.1 220.6 466.2 218.0 462.5C215.4 458.8 212.9 455.4 210.3 452.2C207.7 449.0 205.1 445.9 202.5 443.2C199.9 440.5 197.4 438.2 194.8 436.2C192.2 434.2 189.6 432.6 187.0 431.0C184.4 429.4 181.9 428.0 179.3 426.9C176.7 425.8 174.1 424.9 171.5 424.3C168.9 423.7 166.4 423.5 163.8 423.3C161.2 423.1 158.6 423.2 156.0 423.3C153.4 423.4 150.5 423.8 148.3 423.8C146.2 423.8 144.5 423.7 143.1 423.3C141.7 422.9 140.7 422.0 140.0 421.2C139.3 420.4 139.1 419.9 139.2 418.6Z" fill="none" stroke="#222" stroke-width="0.9"/>
<circle cx="162.5" cy="410.3" r="1.7" fill="#000"/>
<circle cx="239" cy="487.9" r="1.7" fill="#000"/>
<circle cx="256.3" cy="525.3" r="1.7" fill="#000"/>
<text transform="translate(165 416.6) scale(1 1.04)" text-anchor="start" font-family="Liberation Sans, Arial, Helvetica, sans-serif" font-size="20">3</text>
<text transform="translate(242 482) scale(1 1.04)" text-anchor="start" font-family="Liberation Sans, Arial, Helvetica, sans-serif" font-size="20">2</text>
<text transform="translate(259.3 528) scale(1 1.04)" text-anchor="start" font-family="Liberation Sans, Arial, Helvetica, sans-serif" font-size="20">1</text>
</svg></body></html>
